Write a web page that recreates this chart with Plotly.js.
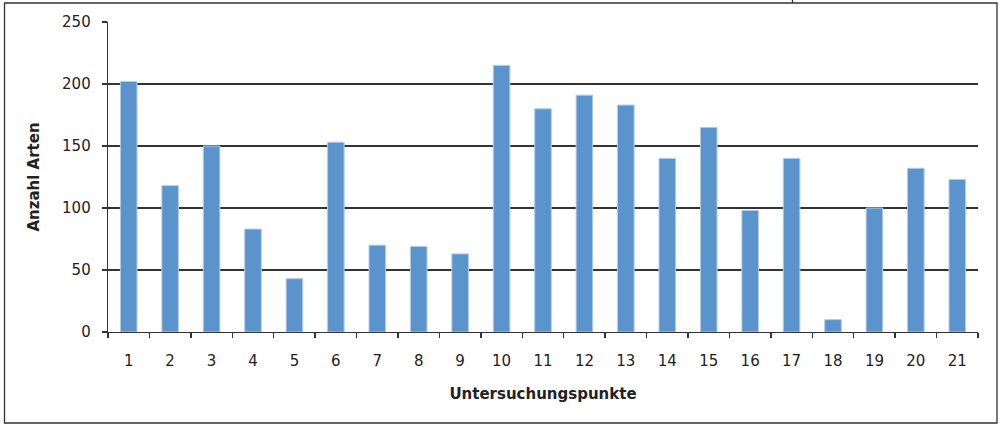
<!DOCTYPE html>
<html>
<head>
<meta charset="utf-8">
<script src="https://cdn.plot.ly/plotly-3.0.1.min.js"></script>
<style>
html,body{margin:0;padding:0;background:#fff;}
#chart{width:1002px;height:424px;}
</style>
</head>
<body>
<div id="chart"></div>
<script>
const categories = ["1","2","3","4","5","6","7","8","9","10","11","12","13","14","15","16","17","18","19","20","21"];
const anzahlArten = [202,118,150,83,43,153,70,69,63,215,180,191,183,140,165,98,140,10,100,132,123];
const yTicks = [0,50,100,150,200,250];

const fontFam = '"DejaVu Sans", "Liberation Sans", sans-serif';
const txt = '#222222';

const trace = {
  type: 'bar',
  x: categories,
  y: anzahlArten,
  marker: {color: '#5b93cd', line: {color: '#b3cbe8', width: 1}},
  hoverinfo: 'x+y'
};

// frame around the whole chart (paper coords relative to plot area)
const L = 108, R = 978, T = 22, B = 332;
const pw = R - L, ph = B - T;
const px = v => (v - L) / pw;
const py = v => (B - v) / ph;

const layout = {
  width: 1002, height: 424,
  margin: {l: L, r: 1002 - R, t: T, b: 424 - B, pad: 0},
  paper_bgcolor: '#ffffff',
  plot_bgcolor: '#ffffff',
  showlegend: false,
  bargap: 0.6,
  font: {family: fontFam, size: 15, color: txt},
  xaxis: {
    type: 'category',
    tickson: 'boundaries',
    ticks: 'outside', ticklen: 5, tickwidth: 1.3, tickcolor: '#333',
    showline: true, linecolor: '#333', linewidth: 1.3,
    showgrid: false, zeroline: false,
    ticklabelstandoff: 15,
    tickfont: {family: fontFam, size: 15, color: txt},
    title: {text: 'Untersuchungspunkte', font: {family: fontFam, size: 15, color: txt, weight: 'bold'}, standoff: 19}
  },
  yaxis: {
    range: [0, 250],
    tickvals: yTicks,
    ticktext: yTicks.map(String),
    ticks: 'outside', ticklen: 5, tickwidth: 1.3, tickcolor: '#333',
    showline: true, linecolor: '#333', linewidth: 1.3,
    showgrid: true, gridcolor: '#333', gridwidth: 1.3,
    zeroline: false,
    ticklabelstandoff: 8,
    tickfont: {family: fontFam, size: 15, color: txt},
    title: {text: 'Anzahl Arten', font: {family: fontFam, size: 15, color: txt, weight: 'bold'}, standoff: 18}
  },
  shapes: [
    {type: 'rect', xref: 'paper', yref: 'paper', x0: px(4.5), x1: px(997), y0: py(423), y1: py(3), line: {color: '#333', width: 1.3}, fillcolor: 'rgba(0,0,0,0)', layer: 'above'},
    {type: 'line', xref: 'paper', yref: 'paper', x0: px(792.5), x1: px(792.5), y0: py(3), y1: py(0), line: {color: '#333', width: 1.3}}
  ]
};

Plotly.newPlot('chart', [trace], layout, {displayModeBar: false, staticPlot: true});
</script>
</body>
</html>
